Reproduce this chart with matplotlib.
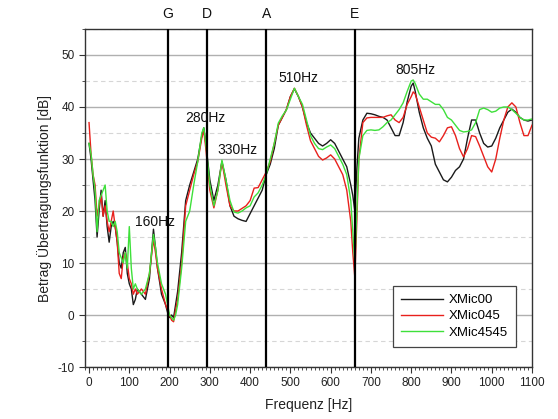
import matplotlib
matplotlib.use("Agg")
import matplotlib.pyplot as plt
from matplotlib.ticker import MultipleLocator
import matplotlib.transforms as mtransforms

plt.rcParams['font.family'] = ['Liberation Sans', 'DejaVu Sans']
plt.rcParams['axes.unicode_minus'] = False

freq = [0, 5, 10, 15, 20, 25, 30, 35, 40, 45, 50, 55, 60, 65, 70, 75, 80, 85, 90, 95,
        100, 105, 110, 115, 120, 130, 140, 150, 160, 165, 170, 180, 190, 195, 200, 205,
        210, 215, 220, 230, 240, 250, 260, 270, 280, 285, 290, 300, 310, 320, 330, 340,
        350, 360, 370, 380, 390, 400, 410, 420, 430, 440, 450, 460, 470, 480, 490, 500,
        510, 520, 530, 540, 550, 560, 570, 580, 590, 600, 610, 620, 630, 640, 650, 655,
        660, 665, 670, 680, 690, 700, 710, 720, 730, 740, 750, 760, 770, 780, 790, 800,
        805, 810, 820, 830, 840, 850, 860, 870, 880, 890, 900, 910, 920, 930, 940, 950,
        960, 970, 980, 990, 1000, 1010, 1020, 1030, 1040, 1050, 1060, 1070, 1080, 1090, 1100]

xmic00 = [33, 30, 26, 22, 15, 20, 24, 19, 22, 17, 14, 17, 18, 17, 14, 10, 9, 12, 13, 8,
          6, 5, 2, 3, 5, 4, 3, 7, 16.5, 13, 9, 4, 2, 0.5, -0.5, 0,
          -0.5, 2, 4.5, 12, 22, 25, 27.5, 30, 34.5, 36, 33, 26, 22, 25, 29.5, 26,
          21, 19, 18.5, 18.2, 18, 19.5, 21, 22.5, 24, 27, 29, 32, 36.5, 38, 39.5, 42,
          43.5, 42, 40, 37, 35, 34, 33, 32.5, 33, 33.7, 33, 31.5, 30, 28.5, 25, 23,
          20, 28, 34, 37.5, 38.8, 38.7, 38.5, 38.2, 38, 37.5, 36, 34.5, 34.5, 37, 41, 44,
          44.6, 43, 39, 36, 34, 32.5, 29, 27.5, 26, 25.6, 26.5, 27.8, 28.5, 30, 34, 37.5,
          37.5, 35, 33, 32.3, 32.5, 34, 36, 37.5, 39, 39.6, 39, 38, 37.5, 37.3, 37.5]

xmic045 = [37, 31, 27, 25, 19, 21, 23, 19, 21, 18, 16, 18, 20, 17, 14, 8, 7, 11, 12, 10,
           7, 6, 4, 5, 4, 5, 4, 8, 14.5, 12, 9, 5, 2, 1, 0, -1,
           -1.3, 1, 3, 10, 21, 24, 27, 29.5, 34, 35.5, 32, 24, 20.6, 24, 29.5, 25,
           21, 20, 20, 20.5, 21, 22, 24.4, 24.5, 26, 27.5, 29.5, 33, 36.5, 38, 39.5, 42,
           43.6, 42, 40, 36.5, 33.5, 32, 30.5, 29.8, 30.2, 30.8, 30, 28.5, 27, 24, 18, 12,
           7.3, 18, 30, 37, 37.9, 38, 38, 38, 38, 38.3, 38.5, 37.5, 37, 38, 40.5, 42,
           42.9, 42.5, 40, 37.5, 35, 34.2, 34, 33.3, 34.5, 36, 36.2, 34.5, 32, 30.4, 32, 34.5,
           34.3, 32.5, 30.5, 28.5, 27.5, 30, 34, 37.5, 40, 40.8, 40, 37, 34.5, 34.5, 36.5]

xmic4545 = [33, 31, 27, 24, 16, 22, 23, 24, 25, 20, 18, 18, 17, 18, 16, 12, 11, 10, 12, 9,
            17, 9, 5, 6, 5, 4, 5, 8, 15.5, 13, 10, 6, 4, 2, 0, -0.5,
            -1, 0, 2, 9, 18, 20, 25, 29.5, 35, 36, 33, 25, 21, 24, 29.8, 26,
            22, 19.8, 19.6, 20, 20.6, 21, 22.7, 23.5, 25, 27, 30, 33, 36.9, 38.3, 39.4, 41.5,
            43.6, 42, 40.5, 37.5, 34.5, 33, 32, 31.8, 32.3, 32.7, 32, 30.5, 29, 27, 22, 16,
            10, 20, 30, 34.5, 35.5, 35.6, 35.5, 35.6, 36.2, 37, 37.5, 38.5, 39.5, 40.8, 43, 45,
            45.2, 44.5, 42.5, 41.5, 41.5, 41, 40.5, 40.5, 39.5, 38, 37.5, 36.5, 35.5, 35.2, 35.3, 35.6,
            37, 39.5, 39.8, 39.5, 39, 39.2, 39.8, 40, 40, 39.5, 38.8, 38, 37.5, 37.5, 37.7]

series_names = ["XMic00", "XMic045", "XMic4545"]
series_colors = ["#1a1a1a", "#e8201c", "#3ee03a"]

note_names = ["G", "D", "A", "E"]
note_freqs = [196, 293.7, 440, 659.3]

peak_labels = ["160Hz", "280Hz", "330Hz", "510Hz", "805Hz"]
peak_label_x = [164, 289, 368, 520, 811]
peak_label_y = [17.9, 37.9, 31.7, 45.6, 47.1]

fig = plt.figure(figsize=(5.58, 4.19), dpi=100)
ax = fig.add_axes([85/558, 1-367/419, 447/558, 338/419])

ax.set_xlim(-10, 1100)
ax.set_ylim(-10, 55)

ax.yaxis.set_major_locator(MultipleLocator(10))
ax.yaxis.set_minor_locator(MultipleLocator(5))
ax.xaxis.set_major_locator(MultipleLocator(100))
ax.xaxis.set_minor_locator(MultipleLocator(10))

ax.grid(True, which='major', axis='y', color='#b0b0b0', linewidth=1.0, linestyle='-')
ax.grid(True, which='minor', axis='y', color='#d6d6d6', linewidth=0.8, linestyle=(0, (4, 3)))
ax.set_axisbelow(True)

for vals, name, col in zip([xmic00, xmic045, xmic4545], series_names, series_colors):
    ax.plot(freq, vals, color=col, linewidth=1.0, label=name, zorder=3)

trans = mtransforms.blended_transform_factory(ax.transData, ax.transAxes)
for nm, fq in zip(note_names, note_freqs):
    ax.axvline(fq, color='black', linewidth=1.6, zorder=4)
    ax.text(fq, 1.043, nm, transform=trans, ha='center', va='center', fontsize=10, color='#111111')

for t, x, y in zip(peak_labels, peak_label_x, peak_label_y):
    ax.text(x, y, t, ha='center', va='center', fontsize=10, color='#111111', zorder=5)

for s in ax.spines.values():
    s.set_color('#333333')
    s.set_linewidth(1.0)

ax.tick_params(axis='both', which='major', direction='out', length=4, width=0.8,
               colors='#333333', labelsize=8.5, labelcolor='#222222')
ax.tick_params(axis='both', which='minor', direction='out', length=2, width=0.6, colors='#333333')

ax.set_xlabel("Frequenz [Hz]", fontsize=10, color='#222222', labelpad=6)
ax.set_ylabel("Betrag Übertragungsfunktion [dB]", fontsize=10, color='#222222', labelpad=4)

leg = ax.legend(loc='lower right', bbox_to_anchor=(0.978, 0.041), fontsize=9.5,
                frameon=True, fancybox=False, handlelength=3.2, borderpad=0.6,
                labelspacing=0.3, handletextpad=0.4)
leg.get_frame().set_edgecolor('#444444')
leg.get_frame().set_linewidth(0.9)
leg.get_frame().set_alpha(1.0)
leg.set_zorder(6)

fig.savefig("out.png", dpi=100)
